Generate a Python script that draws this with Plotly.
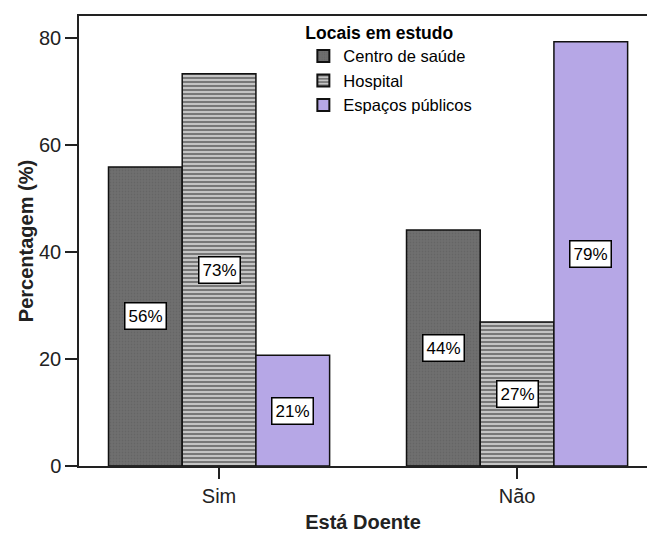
import plotly.graph_objects as go

categories = ["Sim", "Não"]
series_names = ["Centro de saúde", "Hospital", "Espaços públicos"]
centro = [55.9, 44.1]
hospital = [73.3, 26.9]
espacos = [20.7, 79.3]
y_ticks = [0, 20, 40, 60, 80]

series_values = [centro, hospital, espacos]
colors = ["#6c6c6c", "#b9b9b9", "#b6a7e6"]
patterns = [
    dict(shape=".", fgcolor="#5a5a5a", bgcolor="#707070", size=3, solidity=0.3),
    dict(shape="-", fgcolor="#1a1a1a", bgcolor="#c4c4c4", size=4, solidity=0.45),
    dict(shape="", fgcolor="#b6a7e6", bgcolor="#b6a7e6"),
]

bargap = 0.258
xpos = list(range(len(categories)))
FONT = "Liberation Sans, Arial"

fig = go.Figure()
for name, vals, col, pat in zip(series_names, series_values, colors, patterns):
    fig.add_trace(go.Bar(
        x=xpos, y=vals, name=name,
        marker=dict(color=col, pattern=pat, line=dict(color="#111111", width=1.5)),
    ))

bar_w = (1 - bargap) / len(series_names)
for si, vals in enumerate(series_values):
    off = (si - (len(series_names) - 1) / 2) * bar_w
    for ci, v in enumerate(vals):
        fig.add_annotation(
            x=ci + off, y=v / 2, xref="x", yref="y",
            text=f"{round(v)}%", showarrow=False,
            font=dict(family=FONT, size=17, color="black"),
            bgcolor="white", bordercolor="black", borderwidth=1.5, borderpad=3,
        )

fig.update_layout(
    width=647, height=533,
    margin=dict(l=79, r=0, t=16, b=67),
    paper_bgcolor="white", plot_bgcolor="white",
    barmode="group", bargap=bargap, bargroupgap=0,
    font=dict(family=FONT, size=20, color="#222222"),
    legend=dict(
        title=dict(text="<b>Locais em estudo</b>", font=dict(size=17.5, color="black")),
        x=0.395, y=1.0, xanchor="left", yanchor="top",
        font=dict(size=16.5, color="black"),
        bgcolor="rgba(0,0,0,0)", tracegroupgap=0, itemsizing="constant",
    ),
    xaxis=dict(
        range=[-0.47, 1.436], tickvals=xpos, ticktext=categories,
        showline=True, linecolor="#222222", linewidth=1.5, mirror=True,
        ticks="outside", ticklen=11, tickwidth=1.5, tickcolor="#222222",
        tickfont=dict(size=20),
        showgrid=False, zeroline=False,
        title=dict(text="<b>Está Doente</b>", font=dict(size=20, color="#222222"), standoff=9),
    ),
    yaxis=dict(
        range=[0, 84.1], tickvals=y_ticks,
        showline=True, linecolor="#222222", linewidth=1.5,
        ticks="outside", ticklen=12, tickwidth=1.5, tickcolor="#222222",
        tickfont=dict(size=20),
        showgrid=False, zeroline=False,
        title=dict(text="<b>Percentagem (%)</b>", font=dict(size=20, color="#222222"), standoff=0),
    ),
)

fig.write_html("out.html")
